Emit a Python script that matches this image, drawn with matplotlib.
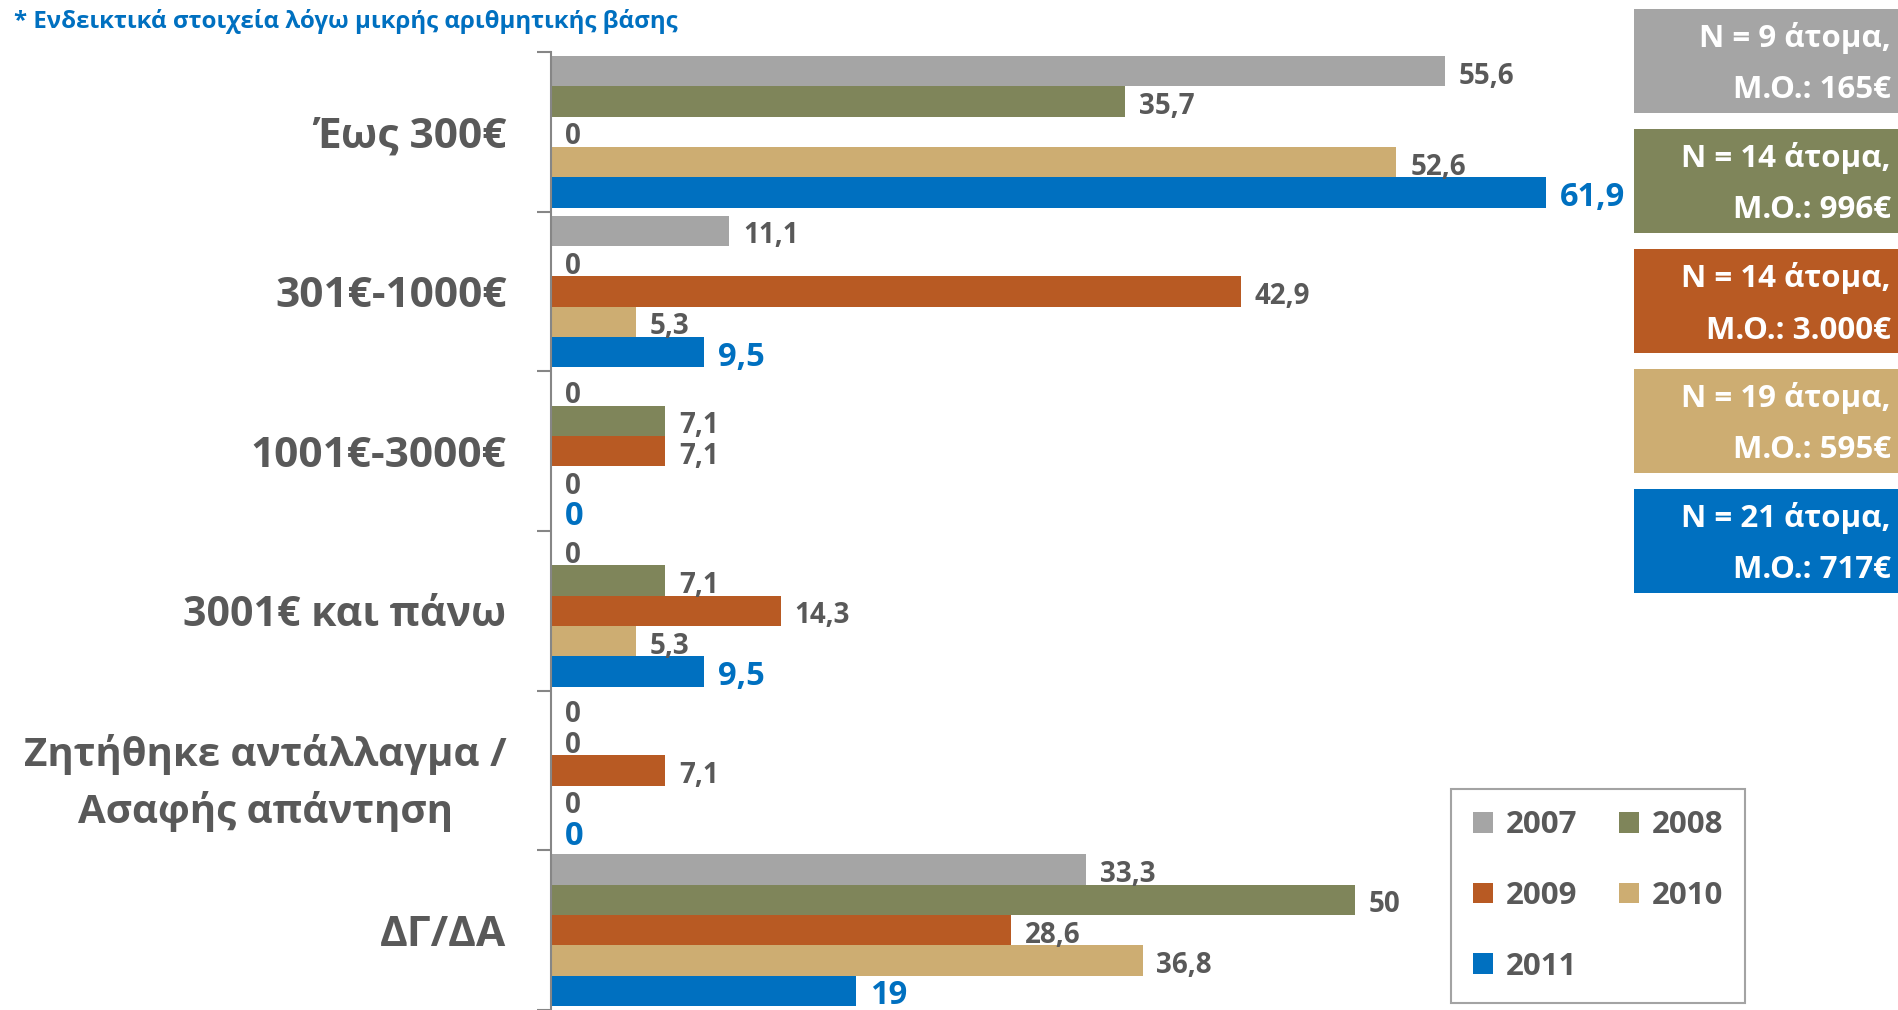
import numpy as np
import matplotlib
matplotlib.use("Agg")
from matplotlib import pyplot as plt
from matplotlib.patches import Rectangle

plt.rcParams['font.family'] = ['Open Sans', 'DejaVu Sans']
plt.rcParams['font.weight'] = 'bold'

categories = ['Έως 300€', '301€-1000€', '1001€-3000€', '3001€ και πάνω',
              'Ζητήθηκε αντάλλαγμα /\nΑσαφής απάντηση', 'ΔΓ/ΔΑ']
years = ['2007', '2008', '2009', '2010', '2011']
v2007 = [55.6, 11.1, 0, 0, 0, 33.3]
v2008 = [35.7, 0, 7.1, 7.1, 0, 50]
v2009 = [0, 42.9, 7.1, 14.3, 7.1, 28.6]
v2010 = [52.6, 5.3, 0, 5.3, 0, 36.8]
v2011 = [61.9, 9.5, 0, 9.5, 0, 19]
box_n = [9, 14, 14, 19, 21]
box_mean = ['165€', '996€', '3.000€', '595€', '717€']
note = '* Ενδεικτικά στοιχεία λόγω μικρής αριθμητικής βάσης'

colors = ['#A5A5A5', '#7F855A', '#B85A23', '#CDAD72', '#0070C0']
textgray = '#595959'
blue = '#0070C0'

W, H = 1898, 1010
fig = plt.figure(figsize=(W / 100, H / 100), dpi=100)
ax = fig.add_axes([551 / W, 0, 1 - 551 / W, 1 - 52 / H])

series = [v2007, v2008, v2009, v2010, v2011]
bh = 0.19
y = np.arange(len(categories))
handles = []
for j, vals in enumerate(series):
    pos = y + (j - 2) * bh
    b = ax.barh(pos, vals, height=bh, color=colors[j], label=years[j])
    handles.append(b)
    for p, v in zip(pos, vals):
        txt = ('%g' % v).replace('.', ',')
        if j == 4:
            ax.annotate(txt, (v, p), xytext=(10, -3.5), textcoords='offset points',
                        ha='left', va='center', fontsize=23.5, color=blue,
                        fontweight='bold')
        else:
            ax.annotate(txt, (v, p), xytext=(10, -3.5), textcoords='offset points',
                        ha='left', va='center', fontsize=20, color=textgray,
                        fontweight='bold')

ax.set_xlim(0, 83.8)
ax.set_ylim(len(categories) - 0.5, -0.5)
ax.set_xticks([])
ax.set_yticks(np.arange(len(categories) + 1) - 0.5)
ax.set_yticklabels([])
ax.tick_params(axis='y', which='major', length=10, width=1.5, color='#868686')
ax.set_yticks(y, minor=True)
ax.set_yticklabels(categories, minor=True, fontsize=30.5, color=textgray,
                   fontweight='bold', multialignment='center', linespacing=1.5)
for lab in ax.get_yticklabels(minor=True):
    if '\n' in lab.get_text():
        lab.set_fontsize(29)
    elif 'και' in lab.get_text():
        lab.set_fontsize(29.5)
ax.tick_params(axis='y', which='minor', length=0, pad=32)
for s in ['top', 'right', 'bottom']:
    ax.spines[s].set_visible(False)
ax.spines['left'].set_color('#868686')
ax.spines['left'].set_linewidth(1.5)

fig.text(14 / W, 1 - 21 / H, note, color=blue, fontsize=17.3, fontweight='bold',
         ha='left', va='center')

# info boxes on the right
for i, (n, m) in enumerate(zip(box_n, box_mean)):
    top = 8.5 + i * 120
    fig.add_artist(Rectangle((1634 / W, 1 - (top + 104) / H), (W - 1634) / W, 104 / H,
                             transform=fig.transFigure, color=colors[i], lw=0))
    fig.text(1891 / W, 1 - (top + 30) / H, 'N = %d άτομα,' % n, color='white',
             fontsize=22.5, fontweight='bold', ha='right', va='center')
    fig.text(1891 / W, 1 - (top + 82) / H, 'Μ.Ο.: %s' % m, color='white',
             fontsize=22.5, fontweight='bold', ha='right', va='center')

order = [0, 2, 4, 1, 3]
leg = fig.legend([handles[k] for k in order], [years[k] for k in order],
                 loc='center', bbox_to_anchor=(1598 / W, 1 - 896 / H), ncol=2,
                 fontsize=22.5, frameon=True, fancybox=False, handlelength=0.65,
                 handleheight=0.65, handletextpad=0.4, columnspacing=1.35,
                 labelspacing=1.3, borderpad=0.68)
for t in leg.get_texts():
    t.set_color(textgray)
leg.get_frame().set_edgecolor('#8C8C8C')
leg.get_frame().set_linewidth(1.5)

fig.savefig('out.png', dpi=100)
